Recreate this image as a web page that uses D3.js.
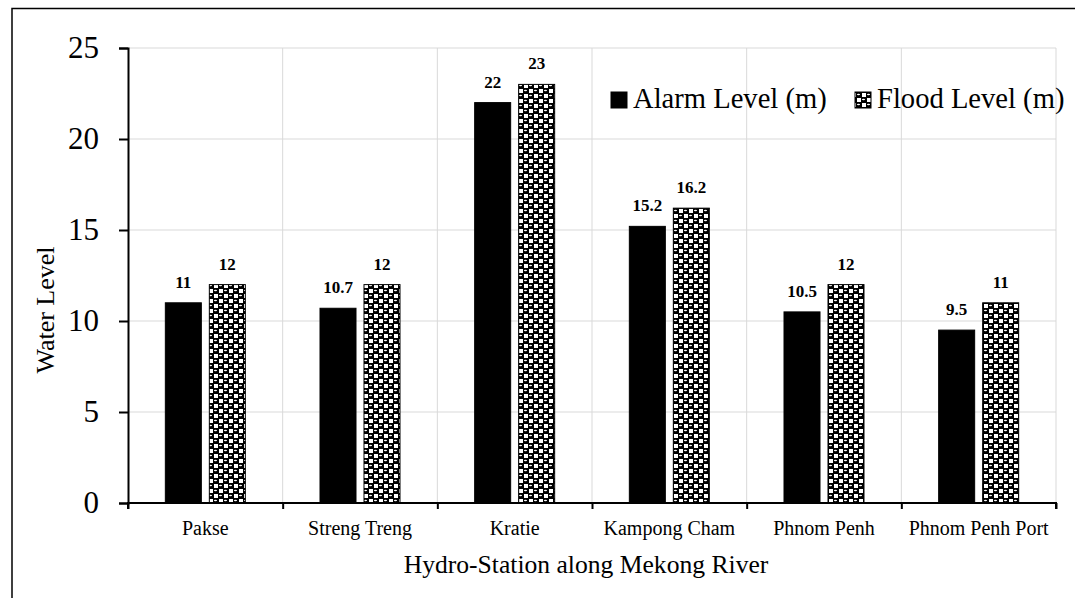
<!DOCTYPE html>
<html>
<head>
<meta charset="utf-8">
<script src="https://cdn.jsdelivr.net/npm/d3@7"></script>
<style>
  html, body { margin: 0; padding: 0; background: #fff; }
  svg { display: block; font-family: "Liberation Serif", "Times New Roman", serif; }
</style>
</head>
<body>
<svg id="chart" width="1075" height="598"></svg>
<script>
// Warning levels at hydro-stations along the Mekong River
const stations = ["Pakse", "Streng Treng", "Kratie", "Kampong Cham", "Phnom Penh", "Phnom Penh Port"];
const alarmLevel = [11, 10.7, 22, 15.2, 10.5, 9.5];
const floodLevel = [12, 12, 23, 16.2, 12, 11];
const seriesNames = ["Alarm Level (m)", "Flood Level (m)"];
const yTicks = [0, 5, 10, 15, 20, 25];

const svg = d3.select("#chart");
const W = 1075, H = 598;
const margin = { left: 128, right: 19, top: 48, bottom: 95 };
const plotW = W - margin.left - margin.right;
const plotH = H - margin.top - margin.bottom;

// Pattern for the flood series: black ground with white checks and highlights
const defs = svg.append("defs");
const pat = defs.append("pattern")
  .attr("id", "sphere").attr("patternUnits", "userSpaceOnUse")
  .attr("width", 10).attr("height", 10);
pat.append("rect").attr("width", 10).attr("height", 10).attr("fill", "#000");
pat.append("rect").attr("x", 1).attr("y", 1).attr("width", 4).attr("height", 4).attr("fill", "#fff");
pat.append("rect").attr("x", 6).attr("y", 6).attr("width", 4).attr("height", 4).attr("fill", "#fff");
pat.append("ellipse").attr("cx", 7.5).attr("cy", 2.5).attr("rx", 1.6).attr("ry", 0.8).attr("fill", "#fff");
pat.append("ellipse").attr("cx", 2.5).attr("cy", 7.5).attr("rx", 1.6).attr("ry", 0.8).attr("fill", "#fff");

// Outer frame
svg.append("rect").attr("x", 12).attr("y", 8.5).attr("width", W).attr("height", H)
  .attr("fill", "none").attr("stroke", "#000").attr("stroke-width", 1.5);

const g = svg.append("g").attr("transform", `translate(${margin.left},${margin.top})`);

const x0 = d3.scaleBand().domain(stations).range([0, plotW]).padding(0);
const y = d3.scaleLinear().domain([0, 25]).range([plotH, 0]);

// Gridlines
g.append("g").selectAll("line").data(yTicks.slice(1)).join("line")
  .attr("x1", 0).attr("x2", plotW)
  .attr("y1", d => y(d)).attr("y2", d => y(d))
  .attr("stroke", "#d9d9d9").attr("stroke-width", 1);
const boundaries = stations.map(s => x0(s) + x0.bandwidth());
g.append("g").selectAll("line").data(boundaries).join("line")
  .attr("x1", d => d).attr("x2", d => d)
  .attr("y1", 0).attr("y2", plotH)
  .attr("stroke", "#d9d9d9").attr("stroke-width", 1);

// Bars
const barW = 36, gap = 8;
const series = [
  { name: seriesNames[0], values: alarmLevel, fill: "#000", offset: -gap / 2 - barW },
  { name: seriesNames[1], values: floodLevel, fill: "url(#sphere)", offset: gap / 2 }
];
series.forEach(s => {
  const grp = g.append("g");
  grp.selectAll("rect").data(stations).join("rect")
    .attr("x", (d) => x0(d) + x0.bandwidth() / 2 + s.offset)
    .attr("y", (d, i) => y(s.values[i]))
    .attr("width", barW)
    .attr("height", (d, i) => plotH - y(s.values[i]))
    .attr("fill", s.fill)
    .attr("stroke", "#000").attr("stroke-width", 1);
  grp.selectAll("text").data(stations).join("text")
    .attr("x", (d) => x0(d) + x0.bandwidth() / 2 + s.offset + barW / 2)
    .attr("y", (d, i) => y(s.values[i]) - 15)
    .attr("text-anchor", "middle")
    .attr("font-size", 17).attr("font-weight", "bold")
    .text((d, i) => s.values[i]);
});

// Y axis
const yAxis = g.append("g")
  .call(d3.axisLeft(y).tickValues(yTicks).tickSize(9).tickPadding(20));
yAxis.select(".domain").attr("stroke", "#000").attr("stroke-width", 2);
yAxis.selectAll(".tick line").attr("stroke", "#000").attr("stroke-width", 2);
yAxis.selectAll(".tick text").attr("font-size", 31).attr("fill", "#000")
  .attr("font-family", "Liberation Serif, Times New Roman, serif");

// X axis with ticks at category boundaries
const xPos = d3.scaleLinear().domain([0, stations.length]).range([0, plotW]);
const xAxis = g.append("g").attr("transform", `translate(0,${plotH})`)
  .call(d3.axisBottom(xPos).tickValues(d3.range(stations.length + 1)).tickSize(6).tickFormat(""));
xAxis.select(".domain").attr("stroke", "#000").attr("stroke-width", 2)
  .attr("d", `M0,6V0H${plotW}V6`);
xAxis.selectAll(".tick line").attr("stroke", "#000").attr("stroke-width", 2);
g.append("g").selectAll("text").data(stations).join("text")
  .attr("x", d => x0(d) + x0.bandwidth() / 2)
  .attr("y", plotH + 32)
  .attr("text-anchor", "middle").attr("font-size", 20)
  .text(d => d);

// Axis titles
svg.append("text")
  .attr("x", 586).attr("y", 573)
  .attr("text-anchor", "middle").attr("font-size", 25.6)
  .text("Hydro-Station along Mekong River");
svg.append("text")
  .attr("transform", `translate(54,310) rotate(-90)`)
  .attr("text-anchor", "middle").attr("font-size", 26)
  .text("Water Level");

// Legend
const legend = svg.append("g").attr("transform", "translate(611,92)");
const legendItems = [
  { name: seriesNames[0], fill: "#000", x: 0 },
  { name: seriesNames[1], fill: "url(#sphere)", x: 244 }
];
legendItems.forEach(it => {
  legend.append("rect").attr("x", it.x).attr("y", 0).attr("width", 16).attr("height", 16)
    .attr("fill", it.fill).attr("stroke", "#000").attr("stroke-width", 1);
  legend.append("text").attr("x", it.x + 22).attr("y", 16)
    .attr("font-size", 28.6).text(it.name);
});
</script>
</body>
</html>
